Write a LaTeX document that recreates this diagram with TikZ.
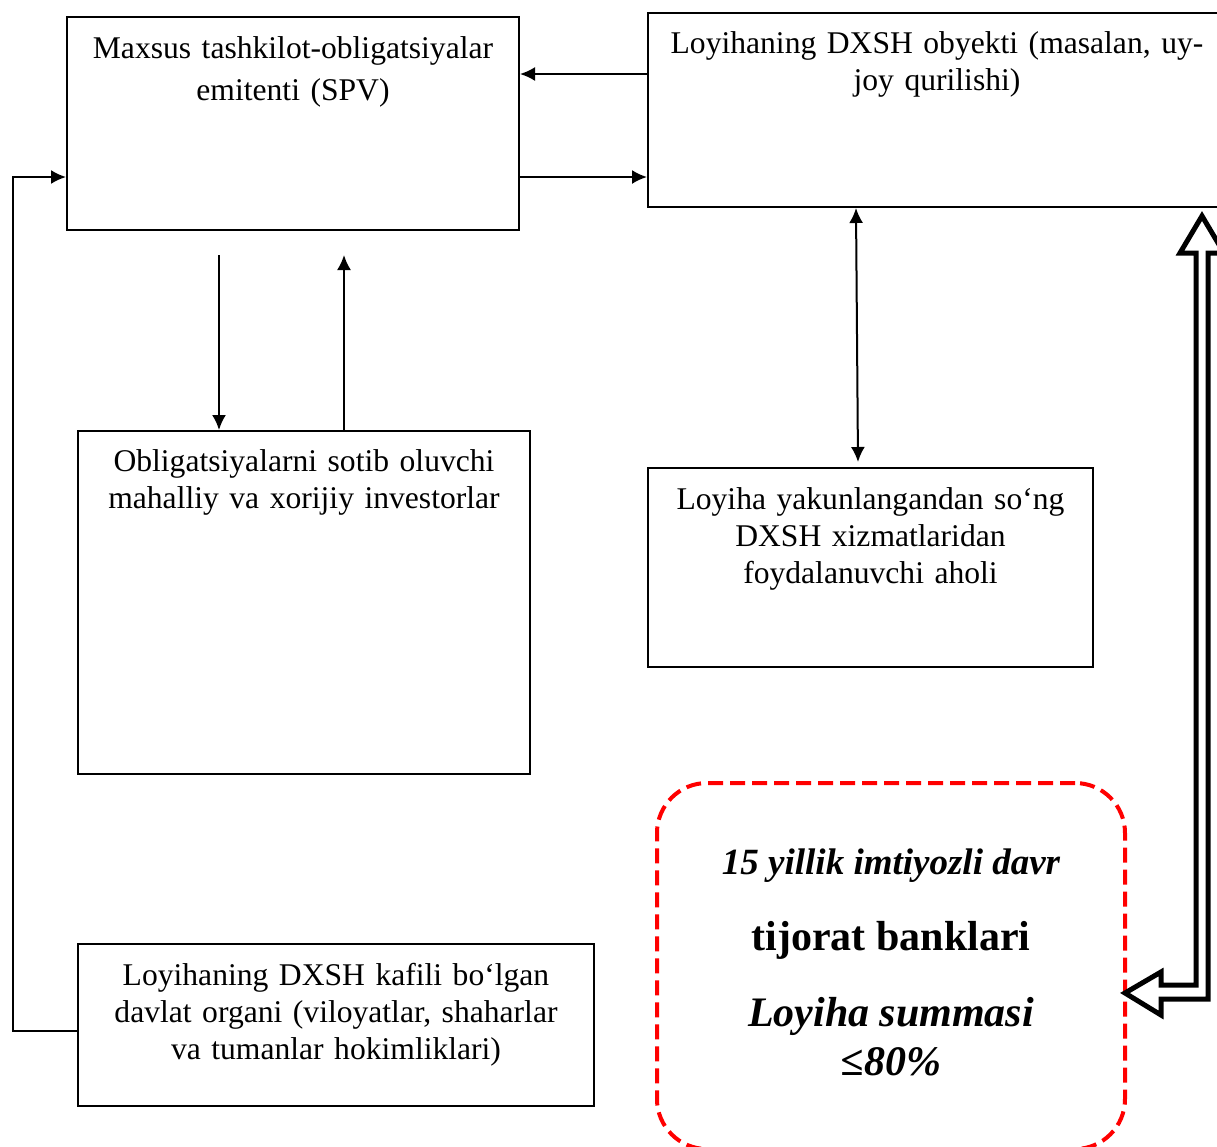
\documentclass[tikz,border=0pt]{standalone}
\usepackage{fontspec}
\setmainfont{Liberation Serif}
\usetikzlibrary{arrows.meta}

\begin{document}
\begin{tikzpicture}[x=0.5pt, y=-0.5pt, line width=1pt,
                    main box/.style 2 args={draw, rectangle, inner sep=0pt, anchor=north west,
                      text width=#1, text depth=#2, text height=20.5pt, align=center,
                      font=\fontsize{15.8}{18.5}\selectfont},
                    bank box/.style={draw=red, line width=2pt, dash pattern=on 7.5pt off 3.5pt,
                      rounded corners=25pt, anchor=north west, inner sep=0pt},
                    bank text/.style={anchor=base, inner sep=0pt},
                    link/.style={-{Latex[length=7.5pt,width=7pt]}}]

  \useasboundingbox (0,0) rectangle (1217,1147);

  \node[main box={226pt}{86pt}, font=\fontsize{15.8}{21}\selectfont] (spv) at (66,16)
    {Maxsus tashkilot-obligatsiyalar\\ emitenti (SPV)};
  \node[main box={289pt}{77pt}, text height=20pt] (obj) at (647,12)
    {Loyihaning DXSH obyekti (masalan, uy-\\joy qurilishi)};
  \node[main box={226pt}{151.5pt}, text height=20pt] (inv) at (77,430)
    {Obligatsiyalarni sotib oluvchi\\ mahalliy va xorijiy investorlar};
  \node[main box={222.5pt}{79pt}] (aholi) at (647,467)
    {Loyiha yakunlangandan so‘ng\\ DXSH xizmatlaridan\\ foydalanuvchi aholi};
  \node[main box={258pt}{60.5pt}] (gov) at (77,943)
    {Loyihaning DXSH kafili bo‘lgan\\ davlat organi (viloyatlar, shaharlar\\ va tumanlar hokimliklari)};

  \node[bank box, minimum width=234pt, minimum height=183pt] (bank) at (655,781) {};
  \node[bank text, font=\bfseries\itshape\fontsize{18.5}{20}\selectfont] (davr) at (891,874) {15 yillik imtiyozli davr};
  \node[bank text, font=\bfseries\fontsize{21}{24}\selectfont] (tijorat) at (891,950) {tijorat banklari};
  \node[bank text, font=\bfseries\itshape\fontsize{21}{24}\selectfont] (summa) at (891,1026) {Loyiha summasi};
  \node[bank text, font=\bfseries\itshape\fontsize{21}{24}\selectfont] (ulush) at (891,1075) {≤80\%};

  \draw[link] (obj.west |- 0,74) -- (spv.east |- 0,74);
  \draw[link] (spv.east |- 0,177) -- (obj.west |- 0,177);
  \draw[link] (219,255) -- (inv.north -| 219,0);
  \draw[link] (inv.north -| 344,0) -- (344,255);
  \draw[{Latex[length=7.5pt,width=7pt]}-{Latex[length=7.5pt,width=7pt]}] (obj.south -| 856,0) -- (858,462);
  \draw[link] (gov.west |- 0,1031) -| (13,177) -- (spv.west |- 0,177);

  \draw[line width=2.5pt, line join=miter] (1202,216) -- (1224,253) -- (1208,253) -- (1208,999)
    -- (1161,999) -- (1161,1015) -- (1125,993) -- (1161,972) -- (1161,985) -- (1196,985)
    -- (1196,253) -- (1180,253) -- cycle;

\end{tikzpicture}
\end{document}
